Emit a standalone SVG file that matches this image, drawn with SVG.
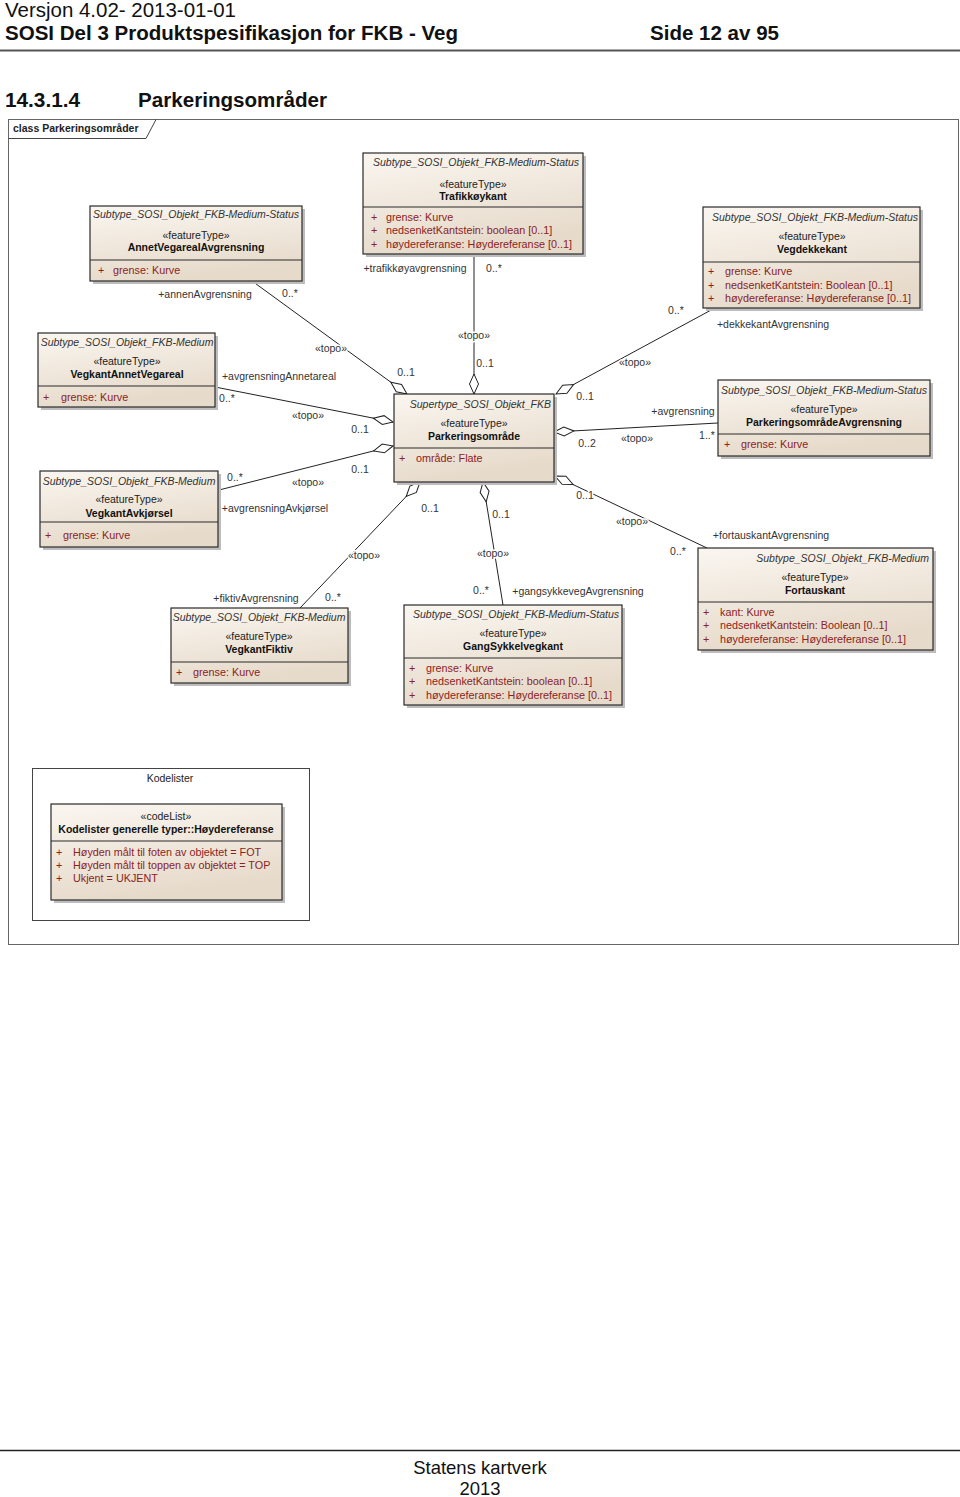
<svg xmlns="http://www.w3.org/2000/svg" width="960" height="1497" viewBox="0 0 960 1497">
<defs>
<linearGradient id="g" x1="0" y1="0" x2="0.3" y2="1">
<stop offset="0" stop-color="#FAF6F0"/>
<stop offset="1" stop-color="#E6DACA"/>
</linearGradient>
<path id="dia" d="M0,0 L10,-4.5 L20,0 L10,4.5 Z" fill="#fff" stroke="#222" stroke-width="1"/>
<style>
text{font-family:"Liberation Sans",Arial,sans-serif;fill:#222}
.hd{font-size:20px;fill:#111}
.hb{font-size:20px;font-weight:bold;fill:#111}
.ft{font-size:18.5px;fill:#111;text-anchor:middle}
.box{fill:url(#g);stroke:#2a2a2a;stroke-width:1.2}
.sh{fill:#bdbdbd}
.dv{stroke:#2a2a2a;stroke-width:1.2}
.st{font-size:10.5px;font-style:italic;fill:#333;text-anchor:middle}
.fT{font-size:10.5px;text-anchor:middle;fill:#222}
.nm{font-size:10.5px;font-weight:bold;text-anchor:middle;fill:#111}
.at{font-size:10.8px;fill:#8B2323}
.lb{font-size:10.5px;text-anchor:middle;fill:#333;stroke:#fff;stroke-width:3;paint-order:stroke;stroke-linejoin:round}
.cn{stroke:#222;stroke-width:1;fill:none}
</style>
</defs>

<g id="header">
<text class="hd" x="5" y="17" textLength="231" lengthAdjust="spacingAndGlyphs">Versjon 4.02- 2013-01-01</text>
<text class="hb" x="5" y="40" textLength="453" lengthAdjust="spacingAndGlyphs">SOSI Del 3 Produktspesifikasjon for FKB - Veg</text>
<text class="hb" x="650" y="40" textLength="129" lengthAdjust="spacingAndGlyphs">Side 12 av 95</text>
<line x1="0" y1="50.5" x2="960" y2="50.5" stroke="#555" stroke-width="2"/>
<text class="hb" x="5" y="107" textLength="75" lengthAdjust="spacingAndGlyphs">14.3.1.4</text>
<text class="hb" x="138" y="107" textLength="189" lengthAdjust="spacingAndGlyphs">Parkeringsområder</text>
</g>

<g id="frame">
<rect x="8.5" y="119.5" width="950" height="825" fill="#fff" stroke="#666" stroke-width="1"/>
<path d="M8.5,138.5 H146 L156,119.5" fill="none" stroke="#444" stroke-width="1"/>
<text x="13" y="132" style="font-size:10.5px;font-weight:bold;fill:#222">class Parkeringsområder</text>
</g>

<g id="connectors">
<line class="cn" x1="407" y1="394" x2="252" y2="281"/>
<line class="cn" x1="474" y1="394" x2="474" y2="254"/>
<line class="cn" x1="556" y1="394" x2="713" y2="309"/>
<line class="cn" x1="393" y1="422" x2="215" y2="387"/>
<line class="cn" x1="393" y1="446" x2="219" y2="490"/>
<line class="cn" x1="420" y1="482" x2="300" y2="608"/>
<line class="cn" x1="483" y1="482" x2="503" y2="605"/>
<line class="cn" x1="554" y1="432" x2="718" y2="423"/>
<line class="cn" x1="555" y1="476" x2="707" y2="548"/>
<use href="#dia" transform="translate(407,394) rotate(216.1)"/>
<use href="#dia" transform="translate(474,394) rotate(-90)"/>
<use href="#dia" transform="translate(556,394) rotate(-28.4)"/>
<use href="#dia" transform="translate(393,422) rotate(191.1)"/>
<use href="#dia" transform="translate(393,446) rotate(165.8)"/>
<use href="#dia" transform="translate(420,482) rotate(133.6)"/>
<use href="#dia" transform="translate(483,482) rotate(80.8)"/>
<use href="#dia" transform="translate(554,432) rotate(-3.1)"/>
<use href="#dia" transform="translate(555,476) rotate(25.3)"/>

<text class="lb" x="205" y="297.5">+annenAvgrensning</text>
<text class="lb" x="290" y="296.5">0..*</text>
<text class="lb" x="331" y="351.5">«topo»</text>
<text class="lb" x="406" y="375.5">0..1</text>

<text class="lb" x="415" y="271.5">+trafikkøyavgrensning</text>
<text class="lb" x="494" y="271.5">0..*</text>
<text class="lb" x="474" y="338.5">«topo»</text>
<text class="lb" x="485" y="366.5">0..1</text>

<text class="lb" x="676" y="313.5">0..*</text>
<text class="lb" x="773" y="327.5">+dekkekantAvgrensning</text>
<text class="lb" x="635" y="365.5">«topo»</text>
<text class="lb" x="585" y="399.5">0..1</text>

<text class="lb" x="279" y="379.5">+avgrensningAnnetareal</text>
<text class="lb" x="227" y="401.5">0..*</text>
<text class="lb" x="308" y="418.5">«topo»</text>
<text class="lb" x="360" y="432.5">0..1</text>

<text class="lb" x="235" y="480.5">0..*</text>
<text class="lb" x="308" y="485.5">«topo»</text>
<text class="lb" x="275" y="511.5">+avgrensningAvkjørsel</text>
<text class="lb" x="360" y="472.5">0..1</text>

<text class="lb" x="364" y="558.5">«topo»</text>
<text class="lb" x="256" y="601.5">+fiktivAvgrensning</text>
<text class="lb" x="333" y="600.5">0..*</text>
<text class="lb" x="430" y="511.5">0..1</text>

<text class="lb" x="493" y="556.5">«topo»</text>
<text class="lb" x="481" y="593.5">0..*</text>
<text class="lb" x="578" y="594.5">+gangsykkevegAvgrensning</text>
<text class="lb" x="501" y="517.5">0..1</text>

<text class="lb" x="683" y="414.5">+avgrensning</text>
<text class="lb" x="707" y="438.5">1..*</text>
<text class="lb" x="637" y="441.5">«topo»</text>
<text class="lb" x="587" y="446.5">0..2</text>

<text class="lb" x="585" y="498.5">0..1</text>
<text class="lb" x="632" y="524.5">«topo»</text>
<text class="lb" x="771" y="538.5">+fortauskantAvgrensning</text>
<text class="lb" x="678" y="554.5">0..*</text>
</g>

<g id="AnnetVegarealAvgrensning">
<rect class="sh" x="93" y="209" width="212" height="75"/>
<rect class="box" x="90" y="206" width="212" height="75"/>
<line class="dv" x1="90" y1="260" x2="302" y2="260"/>
<text class="st" x="196" y="218">Subtype_SOSI_Objekt_FKB-Medium-Status</text>
<text class="fT" x="196" y="238.5">«featureType»</text>
<text class="nm" x="196" y="251">AnnetVegarealAvgrensning</text>
<text class="at" x="98" y="273.5">+</text><text class="at" x="113" y="273.5">grense:  Kurve</text>
</g>

<g id="Trafikkoykant">
<rect class="sh" x="366" y="156" width="220" height="101"/>
<rect class="box" x="363" y="153" width="220" height="101"/>
<line class="dv" x1="363" y1="207" x2="583" y2="207"/>
<text class="st" x="476" y="166">Subtype_SOSI_Objekt_FKB-Medium-Status</text>
<text class="fT" x="473" y="187.5">«featureType»</text>
<text class="nm" x="473" y="199.5">Trafikkøykant</text>
<text class="at" x="371" y="220.5">+</text><text class="at" x="386" y="220.5">grense:  Kurve</text>
<text class="at" x="371" y="234">+</text><text class="at" x="386" y="234">nedsenketKantstein:  boolean [0..1]</text>
<text class="at" x="371" y="247.5">+</text><text class="at" x="386" y="247.5">høydereferanse:  Høydereferanse [0..1]</text>
</g>

<g id="Vegdekkekant">
<rect class="sh" x="706" y="210" width="217" height="101"/>
<rect class="box" x="703" y="207" width="217" height="101"/>
<line class="dv" x1="703" y1="262" x2="920" y2="262"/>
<text class="st" x="815" y="220.5">Subtype_SOSI_Objekt_FKB-Medium-Status</text>
<text class="fT" x="812" y="240">«featureType»</text>
<text class="nm" x="812" y="253">Vegdekkekant</text>
<text class="at" x="708" y="275">+</text><text class="at" x="725" y="275">grense:  Kurve</text>
<text class="at" x="708" y="288.5">+</text><text class="at" x="725" y="288.5">nedsenketKantstein:  Boolean [0..1]</text>
<text class="at" x="708" y="302">+</text><text class="at" x="725" y="302">høydereferanse:  Høydereferanse [0..1]</text>
</g>

<g id="VegkantAnnetVegareal">
<rect class="sh" x="41" y="336" width="177" height="74"/>
<rect class="box" x="38" y="333" width="177" height="74"/>
<line class="dv" x1="38" y1="386" x2="215" y2="386"/>
<text class="st" x="127" y="345.5">Subtype_SOSI_Objekt_FKB-Medium</text>
<text class="fT" x="127" y="364.5">«featureType»</text>
<text class="nm" x="127" y="377.5">VegkantAnnetVegareal</text>
<text class="at" x="43" y="400.5">+</text><text class="at" x="61" y="400.5">grense:  Kurve</text>
</g>

<g id="VegkantAvkjorsel">
<rect class="sh" x="43" y="474" width="178" height="76"/>
<rect class="box" x="40" y="471" width="178" height="76"/>
<line class="dv" x1="40" y1="522" x2="218" y2="522"/>
<text class="st" x="129" y="484.5">Subtype_SOSI_Objekt_FKB-Medium</text>
<text class="fT" x="129" y="503">«featureType»</text>
<text class="nm" x="129" y="516.5">VegkantAvkjørsel</text>
<text class="at" x="45" y="539">+</text><text class="at" x="63" y="539">grense:  Kurve</text>
</g>

<g id="Parkeringsomrade">
<rect class="sh" x="397" y="397" width="160" height="88"/>
<rect class="box" x="394" y="394" width="160" height="88"/>
<line class="dv" x1="394" y1="448" x2="554" y2="448"/>
<text class="st" x="551" y="407.5" style="text-anchor:end">Supertype_SOSI_Objekt_FKB</text>
<text class="fT" x="474" y="426.5">«featureType»</text>
<text class="nm" x="474" y="439.5">Parkeringsområde</text>
<text class="at" x="399" y="461.5">+</text><text class="at" x="416" y="461.5">område:  Flate</text>
</g>

<g id="ParkeringsomradeAvgrensning">
<rect class="sh" x="721" y="383" width="212" height="76"/>
<rect class="box" x="718" y="380" width="212" height="76"/>
<line class="dv" x1="718" y1="434" x2="930" y2="434"/>
<text class="st" x="824" y="393.5">Subtype_SOSI_Objekt_FKB-Medium-Status</text>
<text class="fT" x="824" y="412.5">«featureType»</text>
<text class="nm" x="824" y="425.5">ParkeringsområdeAvgrensning</text>
<text class="at" x="724" y="447.5">+</text><text class="at" x="741" y="447.5">grense:  Kurve</text>
</g>

<g id="VegkantFiktiv">
<rect class="sh" x="174" y="611" width="177" height="75"/>
<rect class="box" x="171" y="608" width="177" height="75"/>
<line class="dv" x1="171" y1="662" x2="348" y2="662"/>
<text class="st" x="259" y="620.5">Subtype_SOSI_Objekt_FKB-Medium</text>
<text class="fT" x="259" y="639.5">«featureType»</text>
<text class="nm" x="259" y="652.5">VegkantFiktiv</text>
<text class="at" x="176" y="675.5">+</text><text class="at" x="193" y="675.5">grense:  Kurve</text>
</g>

<g id="GangSykkelvegkant">
<rect class="sh" x="407" y="608" width="218" height="100"/>
<rect class="box" x="404" y="605" width="218" height="100"/>
<line class="dv" x1="404" y1="658" x2="622" y2="658"/>
<text class="st" x="516" y="617.5">Subtype_SOSI_Objekt_FKB-Medium-Status</text>
<text class="fT" x="513" y="636.5">«featureType»</text>
<text class="nm" x="513" y="649.5">GangSykkelvegkant</text>
<text class="at" x="409" y="671.5">+</text><text class="at" x="426" y="671.5">grense:  Kurve</text>
<text class="at" x="409" y="685">+</text><text class="at" x="426" y="685">nedsenketKantstein:  boolean [0..1]</text>
<text class="at" x="409" y="698.5">+</text><text class="at" x="426" y="698.5">høydereferanse:  Høydereferanse [0..1]</text>
</g>

<g id="Fortauskant">
<rect class="sh" x="701" y="551" width="235" height="102"/>
<rect class="box" x="698" y="548" width="235" height="102"/>
<line class="dv" x1="698" y1="602" x2="933" y2="602"/>
<text class="st" x="929" y="561.5" style="text-anchor:end">Subtype_SOSI_Objekt_FKB-Medium</text>
<text class="fT" x="815" y="580.5">«featureType»</text>
<text class="nm" x="815" y="593.5">Fortauskant</text>
<text class="at" x="703" y="615.5">+</text><text class="at" x="720" y="615.5">kant:  Kurve</text>
<text class="at" x="703" y="629">+</text><text class="at" x="720" y="629">nedsenketKantstein:  Boolean [0..1]</text>
<text class="at" x="703" y="642.5">+</text><text class="at" x="720" y="642.5">høydereferanse:  Høydereferanse [0..1]</text>
</g>

<g id="Kodelister">
<rect x="32.5" y="768.5" width="277" height="152" fill="#fff" stroke="#444" stroke-width="1"/>
<text x="170" y="782" style="font-size:10.5px;text-anchor:middle;fill:#222">Kodelister</text>
</g>

<g id="Hoydereferanse">
<rect class="sh" x="54" y="807" width="231" height="96"/>
<rect class="box" x="51" y="804" width="231" height="96"/>
<line class="dv" x1="51" y1="841" x2="282" y2="841"/>
<text class="fT" x="166" y="819.5">«codeList»</text>
<text class="nm" x="166" y="833">Kodelister generelle typer::Høydereferanse</text>
<text class="at" x="56" y="855.5">+</text><text class="at" x="73" y="855.5">Høyden målt til foten av objektet = FOT</text>
<text class="at" x="56" y="868.5">+</text><text class="at" x="73" y="868.5">Høyden målt til toppen av objektet = TOP</text>
<text class="at" x="56" y="881.5">+</text><text class="at" x="73" y="881.5">Ukjent = UKJENT</text>
</g>

<g id="footer">
<line x1="0" y1="1450.5" x2="960" y2="1450.5" stroke="#222" stroke-width="1.5"/>
<text class="ft" x="480" y="1474">Statens kartverk</text>
<text class="ft" x="480" y="1495">2013</text>
</g>
</svg>
